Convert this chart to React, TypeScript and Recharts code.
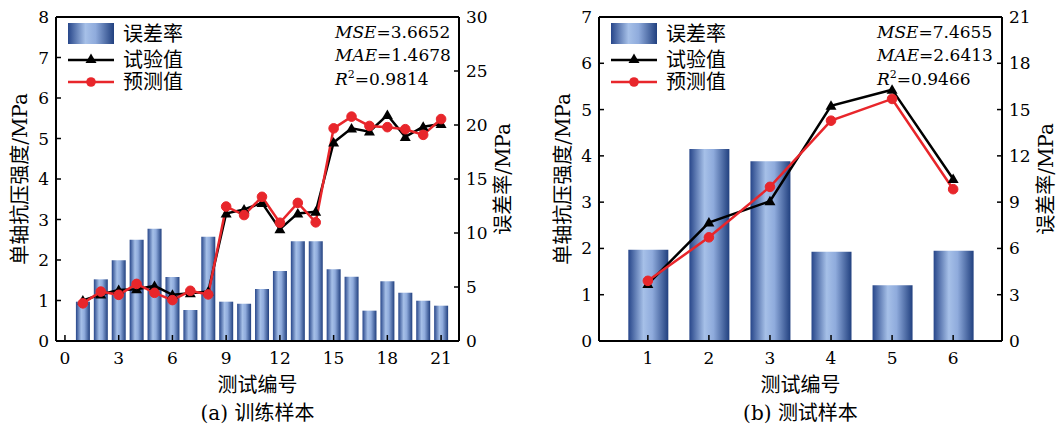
import React from 'react';
import { ComposedChart, Bar, Line, XAxis, YAxis, ReferenceLine } from 'recharts';

// ---------- data ----------
const trainIds = [1, 2, 3, 4, 5, 6, 7, 8, 9, 10, 11, 12, 13, 14, 15, 16, 17, 18, 19, 20, 21];
const trainErrorRate = [3.64, 5.71, 7.47, 9.38, 10.4, 5.93, 2.87, 9.66, 3.64, 3.45, 4.81, 6.48, 9.23, 9.23, 6.64, 5.95, 2.81, 5.53, 4.47, 3.73, 3.27];
const trainMeasured = [1.0, 1.15, 1.26, 1.28, 1.36, 1.14, 1.18, 1.22, 3.15, 3.25, 3.41, 2.76, 3.15, 3.19, 4.9, 5.25, 5.17, 5.58, 5.04, 5.29, 5.36];
const trainPredicted = [0.93, 1.22, 1.14, 1.41, 1.19, 1.01, 1.24, 1.15, 3.32, 3.11, 3.56, 2.92, 3.41, 2.93, 5.25, 5.54, 5.31, 5.28, 5.23, 5.09, 5.48];
const trainXTicks = [0, 3, 6, 9, 12, 15, 18, 21];
const trainLeftTicks = [0, 1, 2, 3, 4, 5, 6, 7, 8];
const trainRightTicks = [0, 5, 10, 15, 20, 25, 30];
const trainStats = { mse: '3.6652', mae: '1.4678', r2: '0.9814' };

const testIds = [1, 2, 3, 4, 5, 6];
const testErrorRate = [5.92, 12.44, 11.65, 5.79, 3.61, 5.85];
const testMeasured = [1.23, 2.56, 3.02, 5.08, 5.43, 3.5];
const testPredicted = [1.3, 2.24, 3.33, 4.76, 5.23, 3.28];
const testXTicks = [1, 2, 3, 4, 5, 6];
const testLeftTicks = [0, 1, 2, 3, 4, 5, 6, 7];
const testRightTicks = [0, 3, 6, 9, 12, 15, 18, 21];
const testStats = { mse: '7.4655', mae: '2.6413', r2: '0.9466' };

const legendLabels = ['误差率', '试验值', '预测值'];
const yLeftLabel = '单轴抗压强度/MPa';
const yRightLabel = '误差率/MPa';
const xLabel = '测试编号';

const trainData = trainIds.map((id, i) => ({ id, err: trainErrorRate[i], exp: trainMeasured[i], pred: trainPredicted[i] }));
const testData = testIds.map((id, i) => ({ id, err: testErrorRate[i], exp: testMeasured[i], pred: testPredicted[i] }));

// ---------- styling ----------
const FONT = "'DejaVu Serif', 'Noto Sans CJK SC', serif";
const RED = '#e8262b';
const TOP = 17;
const BOTTOM = 341;
const HEIGHT = 424;

const XTick = (props: any) => {
  const { x, y, payload } = props;
  return (
    <g>
      <line x1={x} x2={x} y1={y} y2={y - 6} stroke="#000" strokeWidth={1.5} />
      <text x={x} y={y + 23} textAnchor="middle" fontSize={17} fontFamily={FONT} fill="#000">{payload.value}</text>
    </g>
  );
};
const LeftTick = (props: any) => {
  const { x, y, payload } = props;
  return (
    <g>
      <line x1={x} x2={x + 5} y1={y} y2={y} stroke="#000" strokeWidth={1.5} />
      <text x={x - 7} y={y + 6} textAnchor="end" fontSize={17} fontFamily={FONT} fill="#000">{payload.value}</text>
    </g>
  );
};
const RightTick = (props: any) => {
  const { x, y, payload } = props;
  return (
    <g>
      <line x1={x} x2={x - 5} y1={y} y2={y} stroke="#000" strokeWidth={1.5} />
      <text x={x + 7} y={y + 6} textAnchor="start" fontSize={17} fontFamily={FONT} fill="#000">{payload.value}</text>
    </g>
  );
};

const triPath = (cx: number, cy: number) => `M${cx},${cy - 5.5} L${cx + 5.5},${cy + 4} L${cx - 5.5},${cy + 4} Z`;
const TriDot = (props: any) => {
  const { cx, cy, index } = props;
  if (cx == null || cy == null) return <g key={index} />;
  return <path key={index} d={triPath(cx, cy)} fill="#000" />;
};
const CircDot = (props: any) => {
  const { cx, cy, index } = props;
  if (cx == null || cy == null) return <g key={index} />;
  return <circle key={index} cx={cx} cy={cy} r={4.8} fill={RED} stroke={RED} />;
};

type PanelProps = {
  id: string;
  width: number;
  leftW: number;
  rightW: number;
  data: any[];
  xDomain: [number, number];
  xTicks: number[];
  leftTicks: number[];
  rightTicks: number[];
  barSize: number;
  legendX: number;
  statsX: number;
  stats: { mse: string; mae: string; r2: string };
  caption: string;
};

const Panel = (p: PanelProps) => {
  const plotLeft = p.leftW;
  const plotRight = p.width - p.rightW;
  const cx = (plotLeft + plotRight) / 2;
  const leftMax = p.leftTicks[p.leftTicks.length - 1];
  const rightMax = p.rightTicks[p.rightTicks.length - 1];
  const gid = `grad-${p.id}`;
  const lx = p.legendX;
  return (
    <ComposedChart width={p.width} height={HEIGHT} data={p.data} margin={{ top: TOP, right: 0, bottom: HEIGHT - BOTTOM - 30, left: 0 }}>
      <defs>
        <linearGradient id={gid} x1="0" x2="1" y1="0" y2="0">
          <stop offset="0%" stopColor="#27468a" />
          <stop offset="38%" stopColor="#a6c0e8" />
          <stop offset="60%" stopColor="#8fabdc" />
          <stop offset="100%" stopColor="#21407f" />
        </linearGradient>
      </defs>
      <XAxis
        dataKey="id"
        type="number"
        domain={p.xDomain}
        ticks={p.xTicks}
        interval={0}
        height={30}
        allowDataOverflow
        tickSize={0}
        tickMargin={0}
        tickLine={false}
        axisLine={{ stroke: '#000', strokeWidth: 2 }}
        tick={<XTick />}
      />
      <YAxis
        yAxisId="left"
        orientation="left"
        width={p.leftW}
        domain={[0, leftMax]}
        ticks={p.leftTicks}
        interval={0}
        allowDataOverflow
        tickSize={0}
        tickMargin={0}
        tickLine={false}
        axisLine={{ stroke: '#000', strokeWidth: 2 }}
        tick={<LeftTick />}
      />
      <YAxis
        yAxisId="right"
        orientation="right"
        width={p.rightW}
        domain={[0, rightMax]}
        ticks={p.rightTicks}
        interval={0}
        allowDataOverflow
        tickSize={0}
        tickMargin={0}
        tickLine={false}
        axisLine={{ stroke: '#000', strokeWidth: 2 }}
        tick={<RightTick />}
      />
      <ReferenceLine yAxisId="left" y={leftMax} stroke="#000" strokeWidth={2} />
      <Bar yAxisId="right" dataKey="err" barSize={p.barSize} fill={`url(#${gid})`} isAnimationActive={false} />
      <Line yAxisId="left" dataKey="exp" stroke="#000" strokeWidth={2.5} dot={(d: any) => <TriDot key={d.index} {...d} />} activeDot={false} isAnimationActive={false} />
      <Line yAxisId="left" dataKey="pred" stroke={RED} strokeWidth={2.5} dot={(d: any) => <CircDot key={d.index} {...d} />} activeDot={false} isAnimationActive={false} />

      {/* legend */}
      <g fontFamily={FONT} fontSize={20} fill="#000">
        <rect x={lx} y={23} width={46} height={21} fill={`url(#${gid})`} />
        <text x={lx + 55} y={34} dominantBaseline="central">{legendLabels[0]}</text>
        <line x1={lx} x2={lx + 46} y1={60} y2={60} stroke="#000" strokeWidth={2.5} />
        <path d={triPath(lx + 23, 59)} fill="#000" />
        <text x={lx + 55} y={60} dominantBaseline="central">{legendLabels[1]}</text>
        <line x1={lx} x2={lx + 46} y1={82} y2={82} stroke={RED} strokeWidth={2.5} />
        <circle cx={lx + 23} cy={82} r={4.8} fill={RED} />
        <text x={lx + 55} y={82} dominantBaseline="central">{legendLabels[2]}</text>
      </g>

      {/* stats */}
      <g fontFamily={FONT} fontSize={17} fill="#000">
        <text x={p.statsX} y={38}><tspan fontStyle="italic">MSE</tspan>={p.stats.mse}</text>
        <text x={p.statsX} y={61}><tspan fontStyle="italic">MAE</tspan>={p.stats.mae}</text>
        <text x={p.statsX} y={85}><tspan fontStyle="italic">R</tspan><tspan fontSize={11} dy={-7}>2</tspan><tspan dy={7}>={p.stats.r2}</tspan></text>
      </g>

      {/* axis titles */}
      <g fontFamily={FONT} fontSize={20} fill="#000">
        <text transform={`translate(${plotLeft - 36},${(TOP + BOTTOM) / 2}) rotate(-90)`} textAnchor="middle" dominantBaseline="central">{yLeftLabel}</text>
        <text transform={`translate(${plotRight + 44},${(TOP + BOTTOM) / 2}) rotate(-90)`} textAnchor="middle" dominantBaseline="central">{yRightLabel}</text>
        <text x={cx} y={385} textAnchor="middle" dominantBaseline="central">{xLabel}</text>
        <text x={cx} y={413} textAnchor="middle" dominantBaseline="central">{p.caption}</text>
      </g>
    </ComposedChart>
  );
};

export default function App() {
  return (
    <div style={{ position: 'absolute', left: 0, top: 0, width: 1057, height: 424, background: '#fff', overflow: 'hidden' }}>
      <div style={{ position: 'absolute', left: 0, top: 0 }}>
        <Panel
          id="a"
          width={530}
          leftW={56}
          rightW={71}
          data={trainData}
          xDomain={[-0.5, 22]}
          xTicks={trainXTicks}
          leftTicks={trainLeftTicks}
          rightTicks={trainRightTicks}
          barSize={14}
          legendX={68}
          statsX={335}
          stats={trainStats}
          caption="(a) 训练样本"
        />
      </div>
      <div style={{ position: 'absolute', left: 530, top: 0 }}>
        <Panel
          id="b"
          width={527}
          leftW={69}
          rightW={55}
          data={testData}
          xDomain={[0.2, 6.8]}
          xTicks={testXTicks}
          leftTicks={testLeftTicks}
          rightTicks={testRightTicks}
          barSize={40}
          legendX={81}
          statsX={347}
          stats={testStats}
          caption="(b) 测试样本"
        />
      </div>
    </div>
  );
}
